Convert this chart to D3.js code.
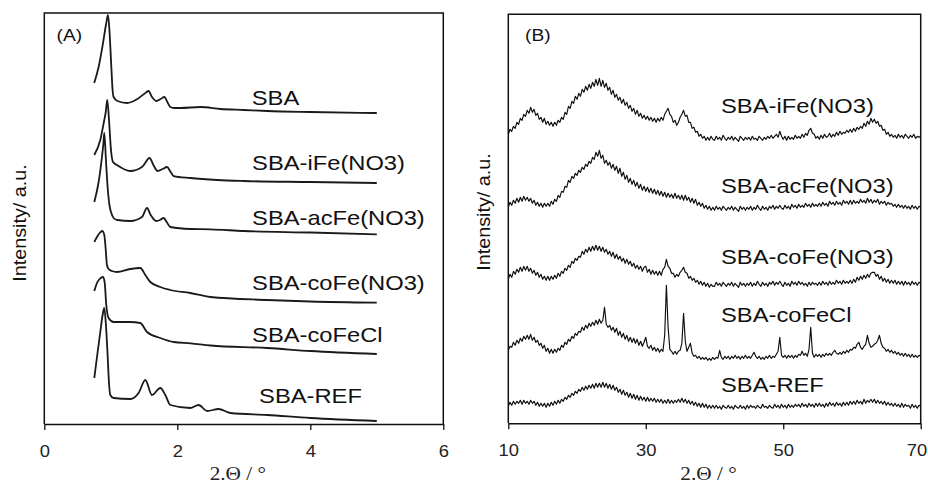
<!DOCTYPE html>
<html>
<head>
<meta charset="utf-8">
<script src="https://cdn.jsdelivr.net/npm/d3@7"></script>
<style>
  body { margin: 0; background: #fff; }
  svg { display: block; }
</style>
</head>
<body>
<svg id="chart" width="928" height="486"></svg>
<script>
// ---------- Panel A: low-angle XRD, [2θ, intensity (a.u., stacked)] ----------
const sbaA = [[0.75,341],[0.817,357],[0.883,381],[0.932,401],[0.958,409],[0.982,391],[1.008,357],[1.027,334],[1.042,327],[1.1,323],[1.244,321],[1.4,325],[1.5,330],[1.568,333],[1.62,327],[1.684,323],[1.75,325],[1.805,327],[1.85,322],[1.895,317],[1.95,316],[2.05,316],[2.35,317],[2.65,315],[3.0,314],[3.35,313],[4.0,312],[5.0,311]];
const ifeA = [[0.752,269],[0.842,284],[0.902,304],[0.922,311],[0.947,324],[0.973,304],[1.003,274],[1.033,262],[1.093,259],[1.293,253],[1.469,257],[1.584,266],[1.64,259],[1.704,253],[1.78,255],[1.845,257],[1.9,252],[1.945,248],[2.195,246],[2.6,244],[3.0,243],[4.0,242],[5.0,241]];
const acfeA = [[0.752,222],[0.817,242],[0.867,267],[0.888,280],[0.902,291],[0.927,264],[0.952,237],[0.982,218],[1.003,212],[1.042,206],[1.1,204],[1.293,203],[1.469,207],[1.544,216],[1.6,209],[1.684,203],[1.74,204],[1.794,206],[1.85,201],[1.895,197],[2.195,195],[2.5,194.7],[3.0,193],[4.0,191.5],[5.0,189.7]];
const cofeA = [[0.752,182],[0.792,187],[0.832,191],[0.872,193],[0.902,189],[0.922,176],[0.942,159],[0.967,155],[1.017,153],[1.093,152],[1.293,155],[1.444,156],[1.519,149],[1.594,142],[1.744,137],[1.895,134],[2.195,131],[2.496,127],[3.35,124],[4.0,122.5],[5.0,121.3]];
const cofeclA = [[0.752,133],[0.792,141],[0.832,145],[0.882,147],[0.907,142],[0.932,119],[0.967,106],[1.042,102],[1.293,102],[1.444,101],[1.544,92],[1.744,86],[1.945,82],[2.2,80.7],[2.5,78.5],[3.35,76],[4.0,73],[5.0,70]];
const refA = [[0.752,46],[0.802,72],[0.842,92],[0.877,109],[0.902,116],[0.927,99],[0.952,69],[0.972,42],[0.992,29],[1.042,26],[1.293,25],[1.418,31],[1.519,44],[1.619,29],[1.744,36],[1.82,29],[1.895,19],[2.195,16],[2.32,19],[2.45,13],[2.62,15],[2.8,11],[3.35,9],[4.0,6],[5.0,3]];
const seriesA = [sbaA, ifeA, acfeA, cofeA, cofeclA, refA];
const namesA = ["SBA", "SBA-iFe(NO3)", "SBA-acFe(NO3)", "SBA-coFe(NO3)", "SBA-coFeCl", "SBA-REF"];
const ticksA = [0, 2, 4, 6];

// ---------- Panel B: wide-angle XRD, one reading every 0.25° from 10° to 70° ----------
// each row holds 20 readings = 5°
const angleB = d3.range(10, 70.001, 0.25);
const ifeB = [
  289,294,292,297,295,301,299,305,303,309,307,313,310,316,311,314,308,310,304,306,
  301,305,299,302,298,301,297,301,298,303,301,306,304,311,309,317,315,322,320,327,
  324,330,327,334,331,337,333,339,335,341,337,344,338,345,337,343,336,340,333,336,
  329,333,326,329,323,326,320,324,318,321,315,318,312,315,309,313,307,310,305,308,
  304,307,303,306,302,305,301,305,302,306,303,309,312,315,309,307,301,303,298,301,
  306,309,313,307,308,301,301,295,296,291,292,287,289,285,287,283,286,283,287,284,
  283,287,284,286,283,288,285,283,286,284,287,283,286,284,282,287,285,283,286,284,
  286,283,287,284,285,283,287,285,283,286,284,287,285,288,285,287,289,286,292,287,
  284,287,283,287,284,286,284,288,285,287,285,289,286,290,288,293,295,290,289,285,
  287,284,288,285,289,286,287,290,286,289,287,291,288,292,289,291,290,293,291,294,
  291,295,292,296,294,297,295,300,297,302,299,305,301,304,300,302,297,298,293,294,
  289,291,287,289,286,288,285,289,286,288,285,289,287,285,288,286,289,285,287,286,
  287];
const acfeB = [
  216,221,218,223,220,225,221,226,222,227,223,226,222,225,220,223,218,221,217,220,
  216,220,217,220,217,222,219,224,222,228,226,232,231,237,236,243,241,247,245,250,
  248,253,251,256,254,259,257,262,260,266,264,271,267,273,265,268,260,263,258,261,
  255,259,253,257,250,255,247,251,244,248,241,245,239,243,237,241,235,239,233,237,
  232,236,231,235,230,234,229,233,228,232,227,231,226,230,226,229,225,230,225,228,
  224,228,223,228,223,226,221,225,220,224,218,221,217,220,215,218,214,217,213,216,
  213,217,214,216,213,217,215,213,216,214,217,213,216,214,212,217,214,216,213,216,
  214,217,213,216,214,218,215,213,217,214,216,213,217,215,218,214,217,215,218,215,
  214,218,215,217,214,219,216,218,215,219,216,218,216,220,217,219,216,220,217,219,
  217,220,217,221,218,220,217,222,219,221,218,222,219,221,218,223,220,222,219,223,
  219,223,220,222,220,224,221,223,220,225,221,224,220,223,221,224,219,222,220,222,
  218,221,219,220,217,219,216,219,216,218,215,218,215,217,214,218,215,217,214,217,
  216];
const cofeB = [
  144,149,146,152,149,154,151,156,152,157,153,157,152,155,150,153,148,151,146,149,
  144,147,143,147,143,147,144,148,145,150,147,152,150,155,153,158,156,162,160,165,
  163,167,166,172,169,174,171,176,172,177,173,178,173,177,172,176,171,174,169,172,
  167,171,165,169,164,167,162,165,160,164,159,162,157,160,155,158,154,157,152,156,
  157,151,154,149,153,149,152,148,152,148,154,156,164,157,155,150,150,146,149,147,
  151,153,156,151,150,145,147,143,145,141,143,139,142,138,141,137,140,136,139,137,
  137,141,138,140,137,141,139,137,140,138,141,137,140,138,136,141,138,140,137,140,
  138,141,137,140,138,142,139,137,141,138,140,137,141,139,142,138,141,139,142,139,
  137,141,138,140,137,142,139,141,138,142,139,141,138,140,137,141,138,141,139,140,
  138,141,138,142,139,141,138,142,139,141,139,143,140,142,139,143,140,142,140,143,
  140,144,141,146,143,147,144,148,145,149,146,150,151,151,147,149,144,147,142,145,
  141,144,140,143,140,143,139,142,139,142,138,142,139,141,138,142,139,141,138,141,
  140];
const cofeclB = [
  73,77,76,81,78,83,80,85,82,87,84,88,84,89,83,86,81,83,78,80,
  75,78,72,75,70,74,70,74,71,75,73,78,76,81,79,84,82,87,85,90,
  88,92,91,96,93,98,95,100,97,101,98,103,99,104,100,103,116,99,96,98,
  93,96,91,95,88,92,86,90,84,88,82,86,81,85,80,84,78,82,77,81,
  86,77,75,78,73,76,72,75,71,74,72,88,138,96,74,72,69,72,69,72,
  73,80,110,82,72,76,80,70,67,68,65,67,64,66,64,66,63,65,63,66,
  64,66,65,73,66,64,67,65,67,64,67,65,68,65,67,64,67,65,68,65,
  67,65,68,71,67,65,67,64,66,64,67,65,68,65,67,66,69,72,86,68,
  66,68,65,68,66,68,65,68,66,69,68,72,68,70,67,74,96,70,66,69,
  67,69,66,69,67,70,68,70,68,71,73,70,69,71,69,72,70,73,71,74,
  73,76,75,79,81,76,74,77,79,88,80,76,77,79,80,83,88,80,76,75,
  72,74,71,73,70,72,69,71,68,70,67,70,67,69,66,69,66,68,66,68,
  67];
const refB = [
  17,21,18,22,19,22,20,23,19,23,20,22,19,23,20,22,18,21,17,20,
  17,20,16,20,17,21,18,22,19,23,20,24,22,26,24,28,26,30,28,32,
  30,34,32,36,33,37,34,38,35,39,35,40,36,40,36,41,36,40,35,39,
  34,38,33,36,31,34,29,33,28,31,26,30,25,29,24,28,23,27,23,26,
  22,26,22,25,22,25,21,24,21,24,20,23,20,24,20,23,20,23,21,24,
  21,25,21,24,20,23,19,22,18,21,17,20,16,20,16,19,15,18,15,18,
  15,18,15,17,14,18,16,15,18,15,17,14,18,16,15,18,15,17,14,18,
  15,18,16,17,15,18,16,15,19,16,17,15,18,16,15,19,16,18,15,19,
  16,18,15,19,16,18,16,19,17,19,16,20,17,19,16,20,17,19,16,20,
  17,20,17,19,16,20,17,21,18,20,17,21,18,20,17,21,18,21,18,22,
  19,22,19,23,20,22,19,24,20,23,21,24,21,24,20,23,20,22,19,22,
  18,21,18,20,17,20,17,19,16,20,16,19,17,18,15,19,16,18,15,18,
  17];
const seriesB = [ifeB, acfeB, cofeB, cofeclB, refB];
const namesB = ["SBA-iFe(NO3)", "SBA-acFe(NO3)", "SBA-coFe(NO3)", "SBA-coFeCl", "SBA-REF"];
const ticksB = [10, 30, 50, 70];

// ---------- drawing ----------
const svg = d3.select("#chart");
const SANS = "'Liberation Sans', Arial, Helvetica, sans-serif";
const SERIF = "'Liberation Serif', 'Times New Roman', serif";
const STRETCH = 1.13;   // the labels use a slightly wide face

function panel(cfg) {
  const { x, y, ticks } = cfg;
  const g = svg.append("g");
  const [x0, x1] = x.range();
  const [yb, yt] = y.range();

  // curves
  cfg.series.forEach(s => {
    g.append("path")
      .datum(s)
      .attr("fill", "none")
      .attr("stroke", cfg.stroke)
      .attr("stroke-width", cfg.width)
      .attr("stroke-linejoin", "round")
      .attr("d", d3.line().x(d => x(d[0])).y(d => y(d[1])).curve(cfg.curve));
  });

  // frame: left, top, right
  g.append("path")
    .attr("fill", "none").attr("stroke", "#111").attr("stroke-width", 1.5)
    .attr("d", `M${x0},${yb}V${yt}H${x1}V${yb}`);

  // bottom axis
  const ax = g.append("g")
    .attr("transform", `translate(0,${yb})`)
    .call(d3.axisBottom(x).tickValues(ticks).tickFormat(d3.format("d"))
      .tickSize(6).tickSizeOuter(0).tickPadding(15));
  ax.select(".domain").attr("stroke", "#111").attr("stroke-width", 1.5);
  ax.selectAll(".tick line").attr("stroke", "#111").attr("stroke-width", 1.3);
  ax.selectAll(".tick text")
    .attr("font-family", SANS).attr("font-size", 17).attr("fill", "#222")
    .attr("transform", "scale(1.08,1)")
    .attr("dx", d => d === cfg.lastTick ? -4 : 0);

  // curve labels
  cfg.labels.forEach(l => {
    g.append("text")
      .attr("transform", `translate(${x(l.at[0])},${y(l.at[1])}) scale(${STRETCH},1)`)
      .attr("font-family", SANS).attr("font-size", 21).attr("fill", "#111")
      .text(l.text);
  });

  // panel tag
  g.append("text")
    .attr("transform", `translate(${cfg.tag.x},${cfg.tag.y}) scale(${STRETCH},1)`)
    .attr("font-family", SANS).attr("font-size", 17).attr("fill", "#111")
    .text(cfg.tag.text);

  // axis titles
  g.append("text")
    .attr("transform", `translate(${(x0 + x1) / 2 - cfg.titleShift},479.5) scale(1.12,1)`)
    .attr("text-anchor", "middle")
    .attr("font-family", SERIF).attr("font-size", 19).attr("fill", "#222")
    .text("2.Θ / °");
  g.append("text")
    .attr("transform", `translate(${cfg.yTitle.x},${cfg.yTitle.y}) rotate(-90) scale(${STRETCH},1)`)
    .attr("text-anchor", "middle")
    .attr("font-family", SANS).attr("font-size", 17.5).attr("fill", "#111")
    .text("Intensity/ a.u.");
}

const xA = d3.scaleLinear().domain([0, 6]).range([44.3, 443.3]);
const yA = d3.scaleLinear().domain([0, 411]).range([424, 13]);
const labelPosA = [[3.12, 319], [3.125, 254], [3.125, 199], [3.125, 134], [3.125, 82.5], [3.23, 20.7]];

panel({
  x: xA, y: yA, ticks: ticksA, lastTick: null,
  series: seriesA,
  stroke: "#1a1a1a", width: 1.8, curve: d3.curveMonotoneX,
  labels: namesA.map((t, i) => ({ text: t, at: labelPosA[i] })),
  tag: { text: "(A)", x: 56.5, y: 41 },
  titleShift: 6,
  yTitle: { x: 26, y: 223 }
});

const xB = d3.scaleLinear().domain([10, 70]).range([508.3, 920.7]);
const yB = d3.scaleLinear().domain([0, 409]).range([423.3, 14.3]);
const labelPosB = [[40.95, 310.5], [40.95, 230.3], [40.95, 159.7], [40.95, 101], [40.95, 31.3]];

panel({
  x: xB, y: yB, ticks: ticksB, lastTick: 70,
  series: seriesB.map(vals => vals.map((v, i) => [angleB[i], v]).filter(d => d[0] !== undefined)),
  stroke: "#0d0d0d", width: 1.15, curve: d3.curveLinear,
  labels: namesB.map((t, i) => ({ text: t, at: labelPosB[i] })),
  tag: { text: "(B)", x: 525, y: 41 },
  titleShift: 6,
  yTitle: { x: 489.5, y: 212 }
});
</script>
</body>
</html>
